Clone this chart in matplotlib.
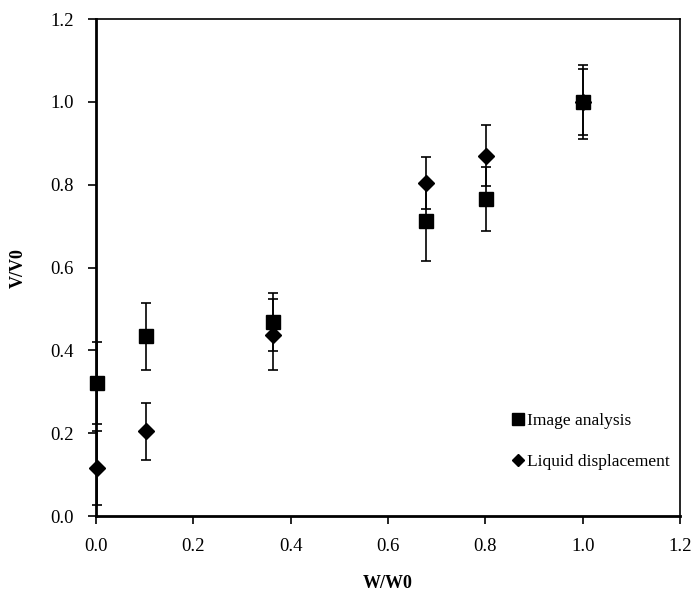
import matplotlib
matplotlib.use("Agg")
import matplotlib.pyplot as plt
from matplotlib.lines import Line2D

# datos
w_img = [0.003, 0.104, 0.364, 0.678, 0.801, 1.0]
v_img = [0.322, 0.434, 0.469, 0.712, 0.766, 1.0]
err_img = [0.099, 0.081, 0.07, 0.097, 0.077, 0.09]

w_liq = [0.003, 0.104, 0.364, 0.678, 0.801, 1.0]
v_liq = [0.116, 0.205, 0.438, 0.805, 0.870, 1.0]
err_liq = [0.090, 0.069, 0.085, 0.063, 0.074, 0.08]

plt.rcParams['font.family'] = ['Liberation Serif', 'DejaVu Serif']

fig = plt.figure(figsize=(6.94, 5.96), dpi=100)
ax = fig.add_axes([0.138, 0.134, 0.842, 0.834])

for w, v, e, m, ms in [(w_img, v_img, err_img, 's', 10),
                       (w_liq, v_liq, err_liq, 'D', 8)]:
    linea, caps, barras = ax.errorbar(w, v, yerr=e, fmt=m, color='black',
                                      markersize=ms, ecolor='black',
                                      elinewidth=1.2, capsize=3.6, capthick=1.2)
    # los puntos en x=0 no se deben recortar
    for art in [linea, *caps, *barras]:
        art.set_clip_on(False)

ax.set_xlim(0, 1.2)
ax.set_ylim(0, 1.2)
ax.set_xticks([0, 0.2, 0.4, 0.6, 0.8, 1.0, 1.2])
ax.set_yticks([0, 0.2, 0.4, 0.6, 0.8, 1.0, 1.2])
ax.xaxis.set_major_formatter(plt.FormatStrFormatter('%.1f'))
ax.yaxis.set_major_formatter(plt.FormatStrFormatter('%.1f'))
ax.tick_params(direction='out', length=6, width=1.2, labelsize=13.5, pad=10,
               top=False, right=False)

for s in ax.spines.values():
    s.set_linewidth(1.2)
ax.spines['bottom'].set_linewidth(2)
ax.spines['left'].set_linewidth(2)

ax.set_xlabel('W/W0', fontsize=13, fontweight='bold', labelpad=14)
ax.set_ylabel('V/V0', fontsize=13, fontweight='bold', labelpad=17)

handles = [Line2D([], [], marker='s', color='black', linestyle='none', markersize=8),
           Line2D([], [], marker='D', color='black', linestyle='none', markersize=6.5)]
ax.legend(handles, ['Image analysis', 'Liquid displacement'],
          loc='upper left', bbox_to_anchor=(0.695, 0.225), frameon=False,
          borderpad=0, handlelength=0.8, handletextpad=0.15, labelspacing=1.4,
          fontsize=12.5)

fig.savefig('out.png', dpi=100)
